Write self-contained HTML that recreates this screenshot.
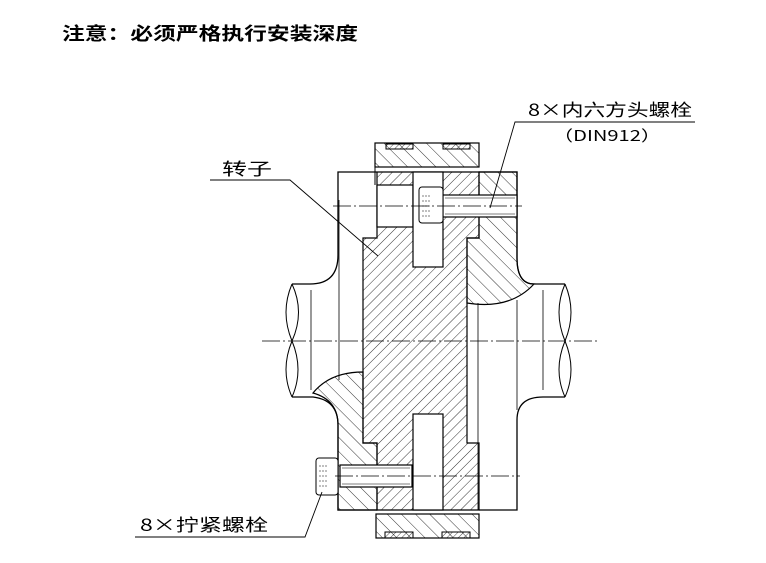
<!DOCTYPE html>
<html><head><meta charset="utf-8"><style>
html,body{margin:0;padding:0;background:#fff;}
svg{display:block}
text{font-family:"WenQuanYi Zen Hei","Noto Sans CJK SC",sans-serif;fill:#000}
</style></head><body>
<svg width="766" height="563" viewBox="0 0 766 563" xmlns="http://www.w3.org/2000/svg">
<defs>
<pattern id="hs" width="7" height="7" patternUnits="userSpaceOnUse" patternTransform="rotate(45)">
<line x1="0" y1="0" x2="0" y2="7" stroke="#000" stroke-width="0.8"/></pattern>
<pattern id="hb" width="10" height="10" patternUnits="userSpaceOnUse" patternTransform="rotate(-45)">
<line x1="0" y1="0" x2="0" y2="10" stroke="#000" stroke-width="0.8"/></pattern>
<pattern id="hd" width="4" height="4" patternUnits="userSpaceOnUse" patternTransform="rotate(45)">
<line x1="0" y1="0" x2="0" y2="4" stroke="#000" stroke-width="0.7"/></pattern>
</defs>
<text x="62" y="40" font-size="18" font-weight="bold" textLength="296" lengthAdjust="spacingAndGlyphs">注意：必须严格执行安装深度</text>

<g fill="none" stroke="#000" stroke-width="1.3">
<path d="M375 172 L338 172 L338 255 Q338 284 310 284 L292 284 M292 397 L313 397 Q338 400 338 425 L338 510 L377 510"/>
<path d="M292 284 Q280 312 292 341 Q304 370 292 397" stroke-width="1"/>
<path d="M292 284 Q305 312 292 341 Q280 370 292 397" stroke-width="1"/>
<path d="M479 172 L517 172 L517 258 Q517 284 534 284 L565 284 M565 397 L543 397 Q517 397 517 420 L517 510 L479 510"/>
<path d="M565 284 Q553 312 565 341 Q577 370 565 397" stroke-width="1"/>
<path d="M565 284 Q577 312 565 341 Q553 370 565 397" stroke-width="1"/>
</g>
<g stroke="#000" stroke-width="0.8">
<line x1="311" y1="290" x2="311" y2="390"/><line x1="339" y1="200" x2="339" y2="380"/>
<line x1="478" y1="303" x2="478" y2="510"/><line x1="517" y1="300" x2="517" y2="410"/><line x1="543" y1="290" x2="543" y2="390"/>
</g>

<rect x="375" y="143" width="104" height="24" fill="url(#hb)" stroke="#000" stroke-width="1.2"/>
<rect x="386" y="144" width="27" height="5" fill="url(#hd)" stroke="#000" stroke-width="1"/>
<rect x="443" y="144" width="27" height="5" fill="url(#hd)" stroke="#000" stroke-width="1"/>
<rect x="376" y="514" width="103" height="24" fill="url(#hb)" stroke="#000" stroke-width="1.2"/>
<rect x="385" y="532" width="28" height="6" fill="url(#hd)" stroke="#000" stroke-width="1"/>
<rect x="442" y="532" width="28" height="6" fill="url(#hd)" stroke="#000" stroke-width="1"/>

<path d="M479 172 L517 172 L517 258 Q517 284 534 284 Q510 310 467 303 L467 238 L479 238 Z" fill="url(#hb)" stroke="#000" stroke-width="1.2"/>
<path d="M377 510 L338 510 L338 425 Q338 400 313 393 Q330 372 363 372 L363 443 L377 443 Z" fill="url(#hb)" stroke="#000" stroke-width="1.2"/>

<path d="M375 172 L479 172 L479 238 L467 238 L467 443 L479 443 L479 510 L377 510 L377 443 L363 443 L363 238 L377 238 L377 172 Z" fill="url(#hs)" stroke="#000" stroke-width="1.2"/>
<line x1="375" y1="167" x2="375" y2="185" stroke="#000"/>
<rect x="377" y="185" width="36" height="42" fill="#fff" stroke="#000" stroke-width="1.2"/>
<rect x="413" y="172" width="30" height="95" fill="#fff" stroke="#000" stroke-width="1.2"/>
<rect x="413" y="414" width="30" height="96" fill="#fff" stroke="#000" stroke-width="1.2"/>

<rect x="443" y="195" width="74" height="22" fill="#fff" stroke="#000" stroke-width="1.2"/>
<line x1="445" y1="198" x2="515" y2="198" stroke="#000" stroke-width="0.6"/>
<line x1="445" y1="214" x2="515" y2="214" stroke="#000" stroke-width="0.6"/>
<rect x="419" y="187" width="24" height="36" rx="3" fill="#fff" stroke="#000" stroke-width="1"/>
<path d="M422 196h8M422 201h8M422 206h8M422 211h8M422 216h8" stroke="#000" stroke-width="0.5" stroke-dasharray="2 1"/>
<rect x="340" y="465" width="72" height="22" fill="#fff" stroke="#000" stroke-width="1.2"/>
<line x1="342" y1="468" x2="410" y2="468" stroke="#000" stroke-width="0.6"/>
<line x1="342" y1="484" x2="410" y2="484" stroke="#000" stroke-width="0.6"/>
<rect x="316" y="458" width="22" height="37" rx="3" fill="#fff" stroke="#000" stroke-width="1"/>
<path d="M319 466h8M319 471h8M319 476h8M319 481h8M319 486h8" stroke="#000" stroke-width="0.5" stroke-dasharray="2 1"/>

<g stroke="#000" stroke-width="0.8" stroke-dasharray="18 3 2 3">
<line x1="262" y1="341" x2="598" y2="341"/>
<line x1="333" y1="206" x2="522" y2="206"/>
<line x1="335" y1="476" x2="520" y2="476"/>
</g>

<g stroke="#000" stroke-width="0.9" fill="none">
<path d="M695 122 L515 122 L490 208"/>
<path d="M210 180 L290 180 L378 256"/>
<path d="M135 537 L305 537 L322 492"/>
</g>
<text x="528" y="116" font-size="17" textLength="164" lengthAdjust="spacingAndGlyphs">8×内六方头螺栓</text>
<text x="553" y="141" font-size="15" textLength="108" lengthAdjust="spacingAndGlyphs">（DIN912）</text>
<text x="222" y="175" font-size="17" textLength="50" lengthAdjust="spacingAndGlyphs">转子</text>
<text x="140" y="531" font-size="17" textLength="128" lengthAdjust="spacingAndGlyphs">8×拧紧螺栓</text>
</svg>
</body></html>
